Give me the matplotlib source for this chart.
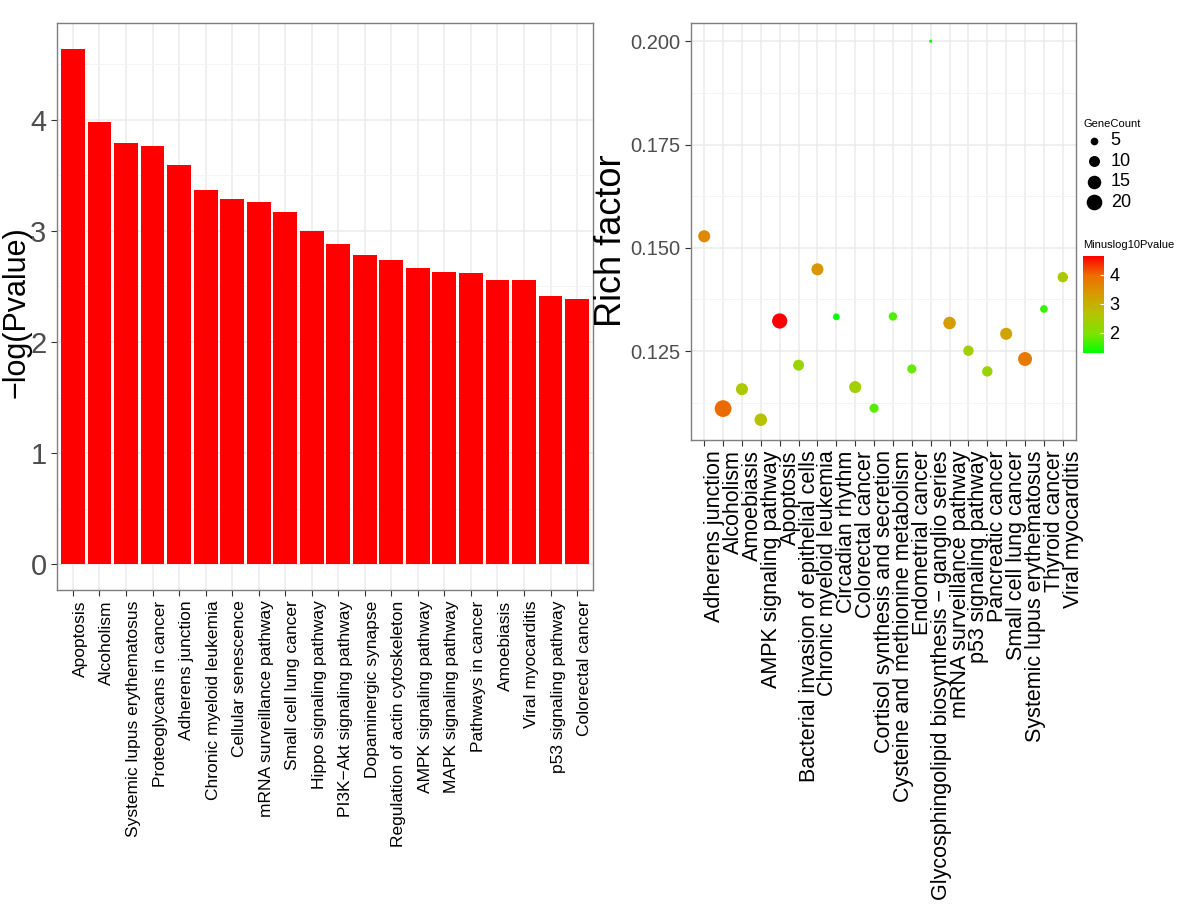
import numpy as np
import matplotlib
matplotlib.use("Agg")
import matplotlib.pyplot as plt
from matplotlib.colors import LinearSegmentedColormap, Normalize
from matplotlib.ticker import MultipleLocator

plt.rcParams['font.family'] = ['Liberation Sans', 'DejaVu Sans']

# barras: -log(Pvalue) por via
vias_barra = ["Apoptosis", "Alcoholism", "Systemic lupus erythematosus",
              "Proteoglycans in cancer", "Adherens junction",
              "Chronic myeloid leukemia", "Cellular senescence",
              "mRNA surveillance pathway", "Small cell lung cancer",
              "Hippo signaling pathway", "PI3K\u2212Akt signaling pathway",
              "Dopaminergic synapse", "Regulation of actin cytoskeleton",
              "AMPK signaling pathway", "MAPK signaling pathway",
              "Pathways in cancer", "Amoebiasis", "Viral myocarditis",
              "p53 signaling pathway", "Colorectal cancer"]
logp_barra = [4.64, 3.98, 3.79, 3.76, 3.59, 3.37, 3.29, 3.26, 3.17, 3.00,
              2.88, 2.78, 2.74, 2.67, 2.63, 2.62, 2.56, 2.555, 2.41, 2.39]

# bolhas: rich factor
vias_bolha = ["Adherens junction", "Alcoholism", "Amoebiasis",
              "AMPK signaling pathway", "Apoptosis",
              "Bacterial invasion of epithelial cells",
              "Chronic myeloid leukemia", "Circadian rhythm",
              "Colorectal cancer", "Cortisol synthesis and secretion",
              "Cysteine and methionine metabolism", "Endometrial cancer",
              "Glycosphingolipid biosynthesis \u2212 ganglio series",
              "mRNA surveillance pathway", "p53 signaling pathway",
              "Pancreatic cancer", "Small cell lung cancer",
              "Systemic lupus erythematosus", "Thyroid cancer",
              "Viral myocarditis"]
rich = [0.1528, 0.1111, 0.1158, 0.1084, 0.1323, 0.1216, 0.1448, 0.1333,
        0.1163, 0.1112, 0.1334, 0.1207, 0.2000, 0.1318, 0.1251, 0.1201,
        0.1292, 0.1231, 0.1352, 0.1429]
genecount = [12, 23, 12, 13, 19, 10, 12, 4, 12, 7, 6, 7, 1, 13, 9, 9, 12, 16, 5, 9]
minuslog10p = [3.59, 3.98, 2.56, 2.67, 4.64, 2.30, 3.37, 1.32, 2.39, 1.75,
               1.72, 1.85, 1.30, 3.26, 2.41, 2.30, 3.17, 3.79, 1.60, 2.555]

legenda_tam = [5, 10, 15, 20]
cbar_ticks = [2, 3, 4]

def tamanho(c):
    return 6.4 * np.asarray(c, dtype=float) - 1.5

cmap = LinearSegmentedColormap.from_list("verde_vermelho", [
    (0.0, "#00FF00"), (0.2, "#80E200"), (0.4, "#B4C400"),
    (0.6, "#D69C00"), (0.8, "#EC6D00"), (1.0, "#FF0000")])
norm = Normalize(vmin=1.30, vmax=4.64)

W, H = 1189, 911
fig = plt.figure(figsize=(W / 100, H / 100), dpi=100)

def caixa(x0, y0, x1, y1):
    return [x0 / W, 1 - y1 / H, (x1 - x0) / W, (y1 - y0) / H]

cinza_borda = "#7f7f7f"
cinza_grade = "#ebebeb"

# painel 1
ax1 = fig.add_axes(caixa(57, 23, 593, 590))
x1 = np.arange(len(vias_barra))
ax1.bar(x1, logp_barra, width=0.9, color="#FF0000", zorder=2)
ax1.set_xlim(-0.6, len(vias_barra) - 0.4)
ax1.set_ylim(-0.23, 4.87)
ax1.set_xticks(x1)
ax1.set_xticklabels(vias_barra, rotation=90, ha="left", fontsize=12.5, color="black")
ax1.yaxis.set_major_locator(MultipleLocator(1))
ax1.yaxis.set_minor_locator(MultipleLocator(0.5))
ax1.tick_params(axis="y", labelsize=21, labelcolor="#4d4d4d", color="#333333", length=4)
ax1.tick_params(axis="y", which="minor", length=0)
ax1.tick_params(axis="x", color="#333333", length=4)
ax1.grid(True, which="major", color=cinza_grade, linewidth=1.1, zorder=0)
ax1.grid(True, which="minor", axis="y", color="#f3f3f3", linewidth=0.6, zorder=0)
ax1.set_axisbelow(True)
ax1.set_ylabel("\u2212log(Pvalue)", fontsize=22)
ax1.yaxis.set_label_coords(-0.047, 0.49)
for s in ax1.spines.values():
    s.set_color(cinza_borda)
    s.set_linewidth(1)

# painel 2
ax2 = fig.add_axes(caixa(691, 23, 1076, 440))
x2 = np.arange(len(vias_bolha))
ax2.scatter(x2, rich, s=tamanho(genecount), c=minuslog10p, cmap=cmap, norm=norm,
            linewidths=0, zorder=3)
ax2.set_xlim(-0.7, len(vias_bolha) - 0.3)
ax2.set_ylim(0.1035, 0.2044)
ax2.set_xticks(x2)
ax2.set_xticklabels(vias_bolha, rotation=90, ha="left", fontsize=15.5, color="black")
ax2.set_yticks([0.125, 0.150, 0.175, 0.200])
ax2.set_yticklabels(["0.125", "0.150", "0.175", "0.200"])
ax2.yaxis.set_minor_locator(MultipleLocator(0.0125))
ax2.tick_params(axis="y", labelsize=14.5, labelcolor="#4d4d4d", color="#333333", length=4)
ax2.tick_params(axis="y", which="minor", length=0)
ax2.tick_params(axis="x", color="#333333", length=4)
ax2.grid(True, which="major", color=cinza_grade, linewidth=1.1, zorder=0)
ax2.grid(True, which="minor", axis="y", color="#f3f3f3", linewidth=0.6, zorder=0)
ax2.set_axisbelow(True)
ax2.set_ylabel("Rich factor", fontsize=26)
ax2.yaxis.set_label_coords(-0.162, 0.477)
for s in ax2.spines.values():
    s.set_color(cinza_borda)
    s.set_linewidth(1)

# legenda de tamanho
alcas = [ax2.scatter([], [], s=tamanho(c), color="black", linewidths=0) for c in legenda_tam]
leg = ax2.legend(alcas, [str(c) for c in legenda_tam], title="GeneCount",
                 loc="upper left", bbox_to_anchor=(1071 / W, 1 - 106 / H),
                 bbox_transform=fig.transFigure, frameon=False, fontsize=13,
                 title_fontsize=8, labelspacing=0.2, handletextpad=0.3,
                 borderpad=0.2, handlelength=1.2, alignment="left")

# barra de cores
cax = fig.add_axes(caixa(1083, 256, 1104, 353))
cb = fig.colorbar(plt.cm.ScalarMappable(norm=norm, cmap=cmap), cax=cax, ticks=cbar_ticks)
cb.outline.set_visible(False)
cax.tick_params(labelsize=13, color="white", length=3, direction="in", pad=4)
fig.text(1083 / W, 1 - 245 / H, "Minuslog10Pvalue", fontsize=8, va="center", ha="left")

fig.savefig("out.png", dpi=100)
